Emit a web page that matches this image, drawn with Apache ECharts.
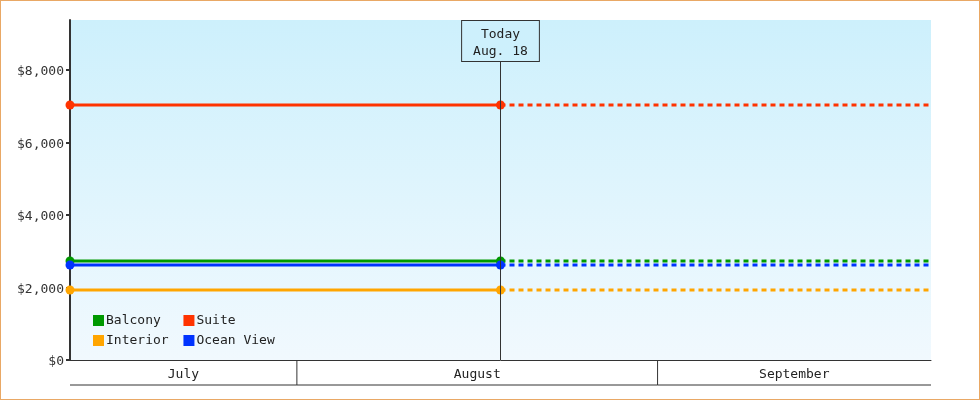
<!DOCTYPE html>
<html><head><meta charset="utf-8">
<script src="https://cdn.jsdelivr.net/npm/echarts@6/dist/echarts.min.js"></script>
<style>
html,body{margin:0;padding:0;background:#fff;}
#wrap{width:978px;height:398px;border:1px solid #e9a865;}
#c{width:978px;height:398px;}
</style></head>
<body><div id="wrap"><div id="c"></div></div>
<script>
// ---- data ----
const rangeStart = '2024-07-12T12:00:00';
const rangeEnd = '2024-09-24T12:00:00';
const today = '2024-08-18T12:00:00';
const todayLabel = ['Today', 'Aug. 18'];
const monthNames = ['July', 'August', 'September'];
const monthStarts = ['2024-07-01T00:00:00', '2024-08-01T00:00:00', '2024-09-01T00:00:00'];
const monthEnds = ['2024-08-01T00:00:00', '2024-09-01T00:00:00', '2024-10-01T00:00:00'];
const cabinNames = ['Balcony', 'Suite', 'Interior', 'Ocean View'];
const cabinPrices = [2730, 7035, 1930, 2620];
const cabinColors = ['#009900', '#ff3300', '#ffa500', '#0033ff'];
const yTicks = [0, 2000, 4000, 6000, 8000];
const yMax = 9380;

const FONT = 'DejaVu Sans Mono';
const t = s => new Date(s).getTime();

const series = [];
cabinNames.forEach((name, i) => {
  series.push({
    name, type: 'line', color: cabinColors[i], clip: false,
    symbol: 'circle', symbolSize: 9, showSymbol: true,
    lineStyle: { width: 3, color: cabinColors[i] },
    itemStyle: { color: cabinColors[i] },
    data: [[t(rangeStart), cabinPrices[i]], [t(today), cabinPrices[i]]],
    z: 3
  });
  series.push({
    name, type: 'line', color: cabinColors[i], clip: false,
    showSymbol: false, symbol: 'none',
    lineStyle: { width: 3, type: [5, 4], color: cabinColors[i] },
    data: [[t(today), cabinPrices[i]], [t(rangeEnd), cabinPrices[i]]],
    z: 2
  });
});

// today marker
series.push({
  type: 'line', data: [], silent: true,
  markLine: {
    symbol: 'none', silent: true,
    lineStyle: { color: '#333', width: 1, type: 'solid' },
    label: {
      show: true, position: 'end', formatter: todayLabel.join('\n'),
      fontFamily: FONT, fontSize: 13, color: '#222', lineHeight: 17,
      backgroundColor: '#cdf0fc', borderColor: '#333', borderWidth: 1,
      padding: [5, 11, 1, 11], offset: [0, 46]
    },
    data: [{ xAxis: t(today) }]
  },
  z: 1
});

// month bands below axis
series.push({
  type: 'custom', silent: true, clip: false, z: 5,
  renderItem(params, api) {
    const cs = params.coordSys;
    let x0 = api.coord([api.value(0), 0])[0];
    let x1 = api.coord([api.value(1), 0])[0];
    const L = cs.x, R = cs.x + cs.width;
    x0 = Math.max(x0, L); x1 = Math.min(x1, R);
    const yb = cs.y + cs.height;
    const children = [
      { type: 'line', shape: { x1: x0, y1: yb + 25, x2: x1, y2: yb + 25 }, style: { stroke: '#333', lineWidth: 1 } },
      { type: 'text', style: { text: monthNames[params.dataIndex], x: (x0 + x1) / 2, y: yb + 14.5, align: 'center', verticalAlign: 'middle', fontFamily: FONT, fontSize: 13, fill: '#222' } }
    ];
    if (x1 < R - 1) children.push({ type: 'line', shape: { x1: x1, y1: yb, x2: x1, y2: yb + 25 }, style: { stroke: '#333', lineWidth: 1 } });
    return { type: 'group', children };
  },
  data: monthNames.map((m, i) => [t(monthStarts[i]), t(monthEnds[i]), m])
});

const chart = echarts.init(document.getElementById('c'), null, { renderer: 'canvas' });
chart.setOption({
  animation: false,
  textStyle: { fontFamily: FONT },
  grid: {
    left: 69, right: 48, top: 19, bottom: 39, show: true, borderWidth: 0,
    backgroundColor: new echarts.graphic.LinearGradient(0, 0, 0, 1, [
      { offset: 0, color: '#cdf0fc' }, { offset: 1, color: '#f1f9fe' }
    ])
  },
  legend: {
    left: 92, top: 313, width: 200, padding: 0, itemWidth: 11, itemHeight: 11, icon: 'rect',
    itemGap: 7, data: cabinNames,
    formatter: n => n.padEnd(9, ' '),
    textStyle: { fontFamily: FONT, fontSize: 13, color: '#222', padding: [0, 0, 0, -3] }
  },
  xAxis: {
    type: 'time', min: t(rangeStart), max: t(rangeEnd),
    axisLine: { show: true, lineStyle: { color: '#333', width: 1 } },
    axisTick: { show: false }, axisLabel: { show: false }, splitLine: { show: false }
  },
  yAxis: {
    type: 'value', min: 0, max: yMax, interval: 2000,
    axisLine: { show: true, lineStyle: { color: '#333', width: 2 } },
    axisTick: { show: true, length: 4, customValues: yTicks, lineStyle: { color: '#333', width: 2 } },
    axisLabel: {
      fontFamily: FONT, fontSize: 13, color: '#333', margin: 6, customValues: yTicks,
      formatter: v => '{v|$' + v.toLocaleString('en-US') + '}',
      rich: { v: { fontFamily: FONT, fontSize: 13, color: '#333', padding: [4, 0, 0, 0] } }
    },
    splitLine: { show: false }
  },
  series
});
</script></body></html>
